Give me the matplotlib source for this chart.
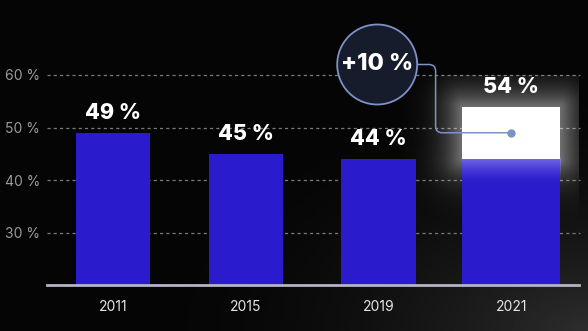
import numpy as np
import matplotlib.pyplot as plt
from matplotlib.patches import Ellipse
from matplotlib.path import Path
from matplotlib.patches import PathPatch

years = ['2011', '2015', '2019', '2021']
shares = [49, 45, 44, 54]
y_ticks = [30, 40, 50, 60]

BLUE = '#2a1bcc'
BG = '#050505'

plt.rcParams['font.family'] = ['Inter', 'DejaVu Sans']

fig = plt.figure(figsize=(5.88, 3.31), dpi=100)
fig.patch.set_facecolor(BG)

# background: black with a faint grey lift toward the bottom-right corner
bg = fig.add_axes([0, 0, 1, 1], zorder=-10)
gx, gy = np.meshgrid(np.linspace(0, 1, 300), np.linspace(0, 1, 200))
d = np.clip(1 - np.hypot(1 - gx, gy) / 0.8, 0, 1)
bg.imshow(0.02 + 0.16 * d ** 2, cmap='gray', vmin=0, vmax=1,
          extent=[0, 1, 0, 1], aspect='auto', origin='lower')
bg.axis('off')

ax = fig.add_axes([47 / 588, 46 / 331, 532 / 588, 210 / 331])
ax.set_facecolor('none')
x = np.arange(len(years))
XLIM = (-0.497, 3.51)
YLIM = (20, 60)
ax.set_xlim(*XLIM)
ax.set_ylim(*YLIM)
px_x = 532 / (XLIM[1] - XLIM[0])   # pixels per x unit
px_y = 210 / (YLIM[1] - YLIM[0])   # pixels per y unit

for s in ['top', 'right', 'left']:
    ax.spines[s].set_visible(False)
ax.spines['bottom'].set_color('#b4b4c4')
ax.spines['bottom'].set_linewidth(2)
ax.spines['bottom'].set_zorder(6)

ax.set_yticks(y_ticks)
ax.set_yticklabels([f'{t} %' for t in y_ticks], color='#9a9a9a', fontsize=10)
ax.set_xticks(x)
ax.set_xticklabels(years, color='#e6e6e6', fontsize=10)
ax.tick_params(length=0)
ax.tick_params(axis='y', pad=5)
ax.tick_params(axis='x', pad=11)

# dashed gridlines reaching out past the axes edges
for t in y_ticks:
    ax.plot([-0.5, 3.52], [t, t], color='#7a7a7a', lw=0.9, ls=(0, (2.5, 2.5)),
            zorder=0, clip_on=False)

widths = [0.56, 0.56, 0.56, 0.74]
base = 20
prev = shares[2]
last = shares[3]

for i in range(3):
    ax.bar(x[i], shares[i] - base, bottom=base, width=widths[i], color=BLUE, zorder=3)

# last bar: blue up to the previous value, white for the increase
w = widths[3]
x0 = x[3] - w / 2
ax.bar(x[3], prev - base, bottom=base, width=w, color=BLUE, zorder=3)
fade = np.linspace(0, 1, 100)[:, None] ** 1.6
grad = np.zeros((100, 1, 4))
grad[..., 0] = 0.55
grad[..., 1] = 0.52
grad[..., 2] = 0.95
grad[..., 3] = 0.75 * fade
ax.imshow(grad, extent=[x0, x0 + w, prev - 5, prev], aspect='auto',
          origin='lower', zorder=4, interpolation='bilinear')

# soft glow around the white segment
m = 60  # glow reach in pixels
gx0, gx1 = x0 - m / px_x, x0 + w + m / px_x
gy0, gy1 = prev - m / px_y, last + m / px_y
ex, ey = np.meshgrid(np.linspace(gx0, gx1, 260), np.linspace(gy0, gy1, 260))
dx = np.maximum(np.maximum(x0 - ex, ex - (x0 + w)), 0) * px_x
dy = np.maximum(np.maximum(prev - ey, ey - last), 0) * px_y
dist = np.hypot(dx, dy)
glow = np.ones((260, 260, 4))
glow[..., 3] = 0.42 * np.exp(-(dist / 20) ** 1.2)
ax.imshow(glow, extent=[gx0, gx1, gy0, gy1], aspect='auto', origin='lower',
          zorder=2, interpolation='bilinear')

ax.bar(x[3], last - prev, bottom=prev, width=w, color='white', zorder=5)
ax.set_xlim(*XLIM)
ax.set_ylim(*YLIM)

for i, v in enumerate(shares):
    ax.annotate(f'{v} %', (x[i], v), xytext=(0, 7), textcoords='offset points',
                ha='center', va='bottom', color='white', fontsize=15.5,
                fontweight='heavy', zorder=7)

# callout bubble with the change
cx, cy = 1.99, 62.0
rad = 40
ax.add_patch(Ellipse((cx, cy), 2 * rad / px_x, 2 * rad / px_y, facecolor='#161c2b',
                     edgecolor='#7d93c6', lw=1.3, zorder=8, clip_on=False))
ax.text(cx, cy, f'+{last - prev} %', ha='center', va='center', color='white',
        fontsize=17, fontweight='heavy', zorder=9, clip_on=False)

mid = (last + prev) / 2
kx = 2.43
r_x, r_y = 0.05, 1.3
verts = [(cx + rad / px_x, cy), (kx - r_x, cy), (kx, cy), (kx, cy - r_y),
         (kx, mid + r_y), (kx, mid), (kx + r_x, mid), (x[3], mid)]
codes = [Path.MOVETO, Path.LINETO, Path.CURVE3, Path.CURVE3,
         Path.LINETO, Path.CURVE3, Path.CURVE3, Path.LINETO]
ax.add_patch(PathPatch(Path(verts, codes), facecolor='none', edgecolor='#7d93c6',
                       lw=1.1, zorder=8, clip_on=False))
ax.plot(x[3], mid, 'o', color='#7d93c6', ms=5, zorder=9)

fig.savefig('out.png', dpi=100, facecolor=fig.get_facecolor())
